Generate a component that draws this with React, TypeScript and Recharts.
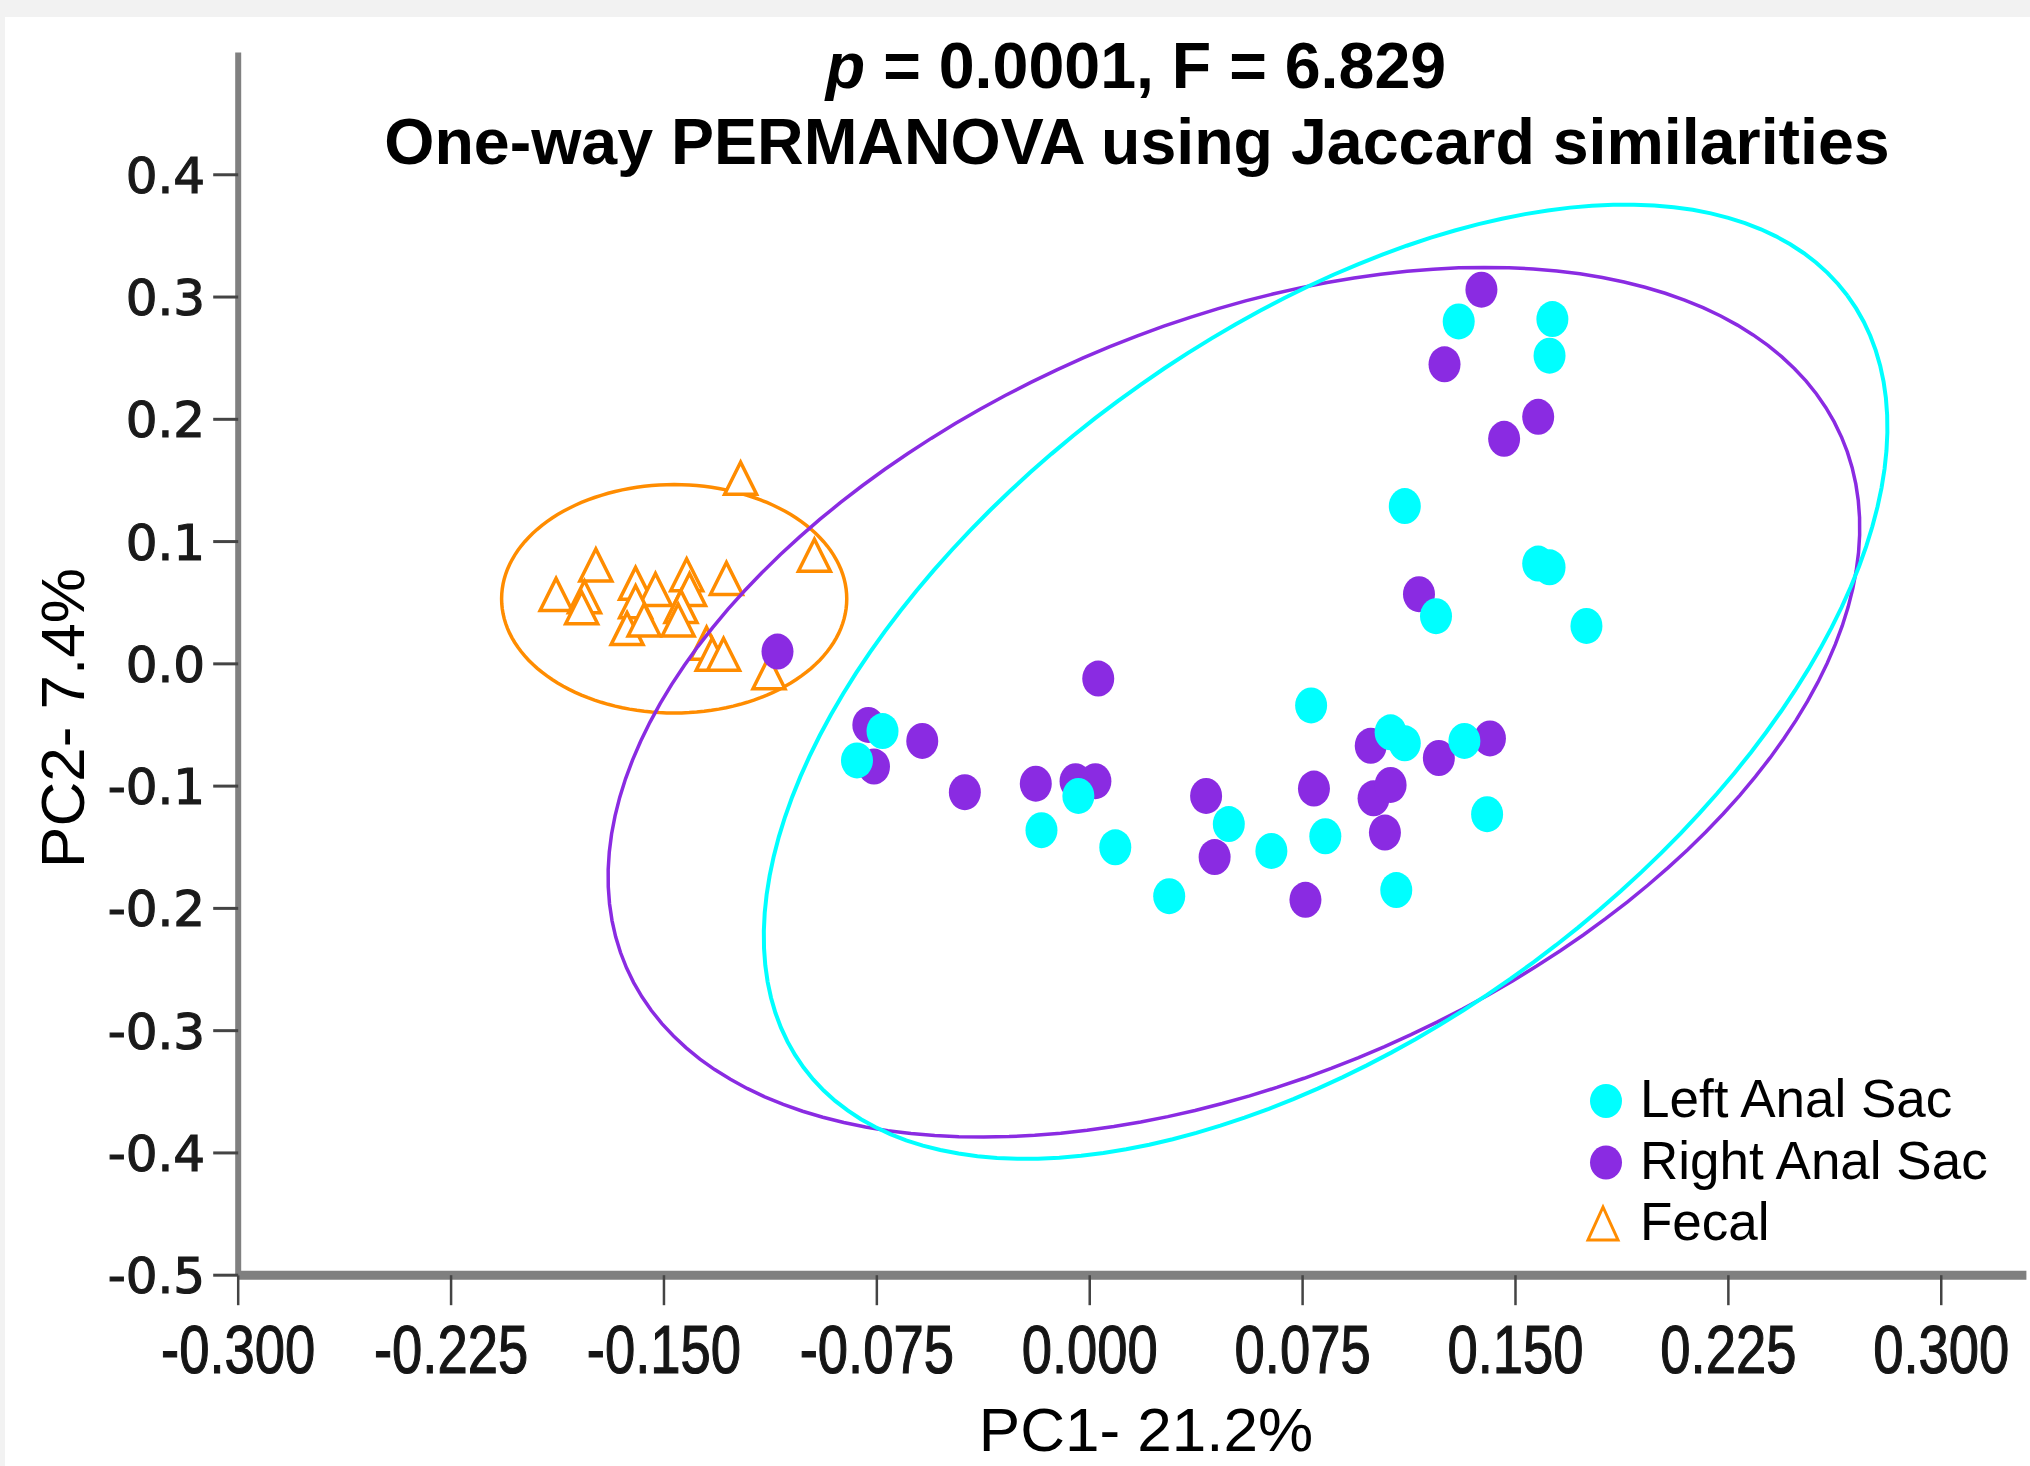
import { ScatterChart, Scatter, XAxis, YAxis } from 'recharts'

// PCoA coordinates
const leftAnalSac = [
  { x: 0.130, y: 0.280 }, { x: 0.163, y: 0.282 }, { x: 0.162, y: 0.252 },
  { x: 0.111, y: 0.129 }, { x: 0.158, y: 0.082 }, { x: 0.162, y: 0.079 },
  { x: 0.122, y: 0.039 }, { x: 0.175, y: 0.031 }, { x: 0.078, y: -0.034 },
  { x: 0.106, y: -0.056 }, { x: 0.111, y: -0.065 }, { x: 0.132, y: -0.063 },
  { x: 0.140, y: -0.123 }, { x: 0.108, y: -0.185 }, { x: 0.083, y: -0.141 },
  { x: 0.064, y: -0.153 }, { x: 0.049, y: -0.131 }, { x: 0.028, y: -0.190 },
  { x: 0.009, y: -0.150 }, { x: -0.004, y: -0.108 }, { x: -0.017, y: -0.136 },
  { x: -0.073, y: -0.055 }, { x: -0.082, y: -0.079 },
]

const rightAnalSac = [
  { x: 0.138, y: 0.306 }, { x: 0.125, y: 0.245 }, { x: 0.158, y: 0.202 },
  { x: 0.146, y: 0.184 }, { x: 0.116, y: 0.057 }, { x: -0.110, y: 0.010 },
  { x: 0.003, y: -0.012 }, { x: -0.078, y: -0.050 }, { x: -0.076, y: -0.084 },
  { x: -0.059, y: -0.063 }, { x: -0.044, y: -0.105 }, { x: -0.019, y: -0.098 },
  { x: -0.005, y: -0.096 }, { x: 0.002, y: -0.096 }, { x: 0.041, y: -0.108 },
  { x: 0.044, y: -0.158 }, { x: 0.076, y: -0.193 }, { x: 0.079, y: -0.102 },
  { x: 0.099, y: -0.067 }, { x: 0.100, y: -0.110 }, { x: 0.106, y: -0.099 },
  { x: 0.104, y: -0.138 }, { x: 0.123, y: -0.077 }, { x: 0.141, y: -0.061 },
]

const fecal = [
  { x: -0.123, y: 0.151 }, { x: -0.097, y: 0.088 }, { x: -0.174, y: 0.080 },
  { x: -0.188, y: 0.056 }, { x: -0.178, y: 0.054 }, { x: -0.179, y: 0.045 },
  { x: -0.160, y: 0.065 }, { x: -0.153, y: 0.060 }, { x: -0.160, y: 0.050 },
  { x: -0.163, y: 0.028 }, { x: -0.157, y: 0.035 }, { x: -0.142, y: 0.072 },
  { x: -0.141, y: 0.060 }, { x: -0.144, y: 0.046 }, { x: -0.145, y: 0.035 },
  { x: -0.128, y: 0.069 }, { x: -0.135, y: 0.016 }, { x: -0.133, y: 0.007 },
  { x: -0.129, y: 0.007 }, { x: -0.113, y: -0.008 },
]

// 95% ellipses: centre and two semi-axis vectors, in data units
const ellipseCyan = { cx: 0.0831, cy: -0.0146, ux: 0.1839, uy: 0.3156, vx: 0.0732, vy: -0.2295 }
const ellipsePurple = { cx: 0.0508, cy: -0.0314, ux: 0.214, uy: 0.2172, vx: 0.0531, vy: -0.2816 }
const ellipseOrange = { cx: -0.1464, cy: 0.0532, ux: 0.0608, uy: 0, vx: 0, vy: 0.0934 }

const xTicks = [-0.3, -0.225, -0.15, -0.075, 0, 0.075, 0.15, 0.225, 0.3]
const yTicks = [-0.5, -0.4, -0.3, -0.2, -0.1, 0, 0.1, 0.2, 0.3, 0.4]

const legendItems = [
  { label: 'Left Anal Sac', color: '#00ffff', kind: 'dot' },
  { label: 'Right Anal Sac', color: '#8a2be2', kind: 'dot' },
  { label: 'Fecal', color: '#ff8c00', kind: 'tri' },
]

const CYAN = '#00ffff'
const PURPLE = '#8a2be2'
const ORANGE = '#ff8c00'

const outline = (e: typeof ellipseCyan) =>
  Array.from({ length: 145 }, (_, i) => {
    const t = (i / 144) * 2 * Math.PI
    return {
      x: e.cx + e.ux * Math.cos(t) + e.vx * Math.sin(t),
      y: e.cy + e.uy * Math.cos(t) + e.vy * Math.sin(t),
    }
  })

const dot = (color: string) => (p: any) => (
  <ellipse cx={p.cx} cy={p.cy} rx={16} ry={18} fill={color} />
)

const triangle = (p: any) => (
  <polygon
    points={`${p.cx},${p.cy - 17} ${p.cx - 16},${p.cy + 15} ${p.cx + 16},${p.cy + 15}`}
    fill="#fff"
    stroke={ORANGE}
    strokeWidth={3.5}
  />
)

const noShape = () => <g />

const XTick = ({ x, y, payload }: any) => (
  <text
    transform={`translate(${x},${y + 66}) scale(0.8,1)`}
    textAnchor="middle"
    fontFamily="'Liberation Sans', Arial, sans-serif"
    fontSize={68}
    fill="#151515"
    stroke="#151515"
    strokeWidth={1.2}
  >
    {Number(payload.value).toFixed(3)}
  </text>
)

const YTick = ({ x, y, payload }: any) => (
  <text
    x={x}
    y={y}
    dy="0.36em"
    textAnchor="end"
    fontFamily="'DejaVu Sans', sans-serif"
    fontSize={50}
    fill="#1a1a1a"
    stroke="#1a1a1a"
    strokeWidth={1.2}
  >
    {Number(payload.value).toFixed(1)}
  </text>
)

const font = "'Liberation Sans', Arial, sans-serif"

export default function App() {
  return (
    <div style={{ position: 'absolute', left: 0, top: 0, width: 2030, height: 1466, background: '#f2f2f2' }}>
      <div style={{ position: 'absolute', left: 5, top: 17, width: 2025, height: 1449, background: '#fff' }} />
      <div style={{ position: 'absolute', left: 0, top: 0 }}>
        <ScatterChart
          width={2030}
          height={1466}
          margin={{ top: 52.5, right: 3.6, bottom: 70.8, left: 0 }}
        >
          <XAxis
            type="number"
            dataKey="x"
            domain={[-0.3, 0.33]}
            ticks={xTicks}
            interval={0}
            allowDataOverflow
            height={120}
            tickSize={30}
            axisLine={{ stroke: '#7f7f7f', strokeWidth: 9 }}
            tickLine={{ stroke: '#444', strokeWidth: 2.5 }}
            tick={<XTick />}
          />
          <YAxis
            type="number"
            dataKey="y"
            domain={[-0.5, 0.5]}
            ticks={yTicks}
            interval={0}
            allowDataOverflow
            width={238.2}
            tickSize={25}
            tickMargin={8}
            axisLine={{ stroke: '#808080', strokeWidth: 6 }}
            tickLine={{ stroke: '#444', strokeWidth: 3 }}
            tick={<YTick />}
          />
          <Scatter
            data={outline(ellipseOrange)}
            line={{ stroke: ORANGE, strokeWidth: 3.5 }}
            lineType="joint"
            shape={noShape}
            isAnimationActive={false}
          />
          <Scatter data={fecal} shape={triangle} isAnimationActive={false} />
          <Scatter data={rightAnalSac} shape={dot(PURPLE)} isAnimationActive={false} />
          <Scatter data={leftAnalSac} shape={dot(CYAN)} isAnimationActive={false} />
          <Scatter
            data={outline(ellipsePurple)}
            line={{ stroke: PURPLE, strokeWidth: 3.5 }}
            lineType="joint"
            shape={noShape}
            isAnimationActive={false}
          />
          <Scatter
            data={outline(ellipseCyan)}
            line={{ stroke: CYAN, strokeWidth: 4 }}
            lineType="joint"
            shape={noShape}
            isAnimationActive={false}
          />
        </ScatterChart>
      </div>
      <svg
        width={2030}
        height={1466}
        style={{ position: 'absolute', left: 0, top: 0, pointerEvents: 'none' }}
      >
        <text x={1136} y={88} textAnchor="middle" fontFamily={font} fontWeight="bold" fontSize={64.5} fill="#000">
          <tspan fontStyle="italic">p</tspan> = 0.0001, F = 6.829
        </text>
        <text x={1137} y={164} textAnchor="middle" fontFamily={font} fontWeight="bold" fontSize={64.5} fill="#000">
          One-way PERMANOVA using Jaccard similarities
        </text>
        <text x={1146} y={1451} textAnchor="middle" fontFamily={font} fontSize={62} fill="#000">
          PC1- 21.2%
        </text>
        <text
          transform="translate(84,718) rotate(-90)"
          textAnchor="middle"
          fontFamily={font}
          fontSize={62}
          fill="#000"
        >
          PC2- 7.4%
        </text>
        {legendItems.map((item, i) => {
          const cy = 1101 + i * 61.5
          return (
            <g key={item.label}>
              {item.kind === 'dot' ? (
                <ellipse cx={1606} cy={cy} rx={16} ry={17} fill={item.color} />
              ) : (
                <polygon
                  points={`1603,${cy - 17} 1588,${cy + 16} 1618,${cy + 16}`}
                  fill="#fff"
                  stroke={item.color}
                  strokeWidth={3}
                />
              )}
              <text x={1640} y={cy + 16} fontFamily={font} fontSize={53} fill="#000">
                {item.label}
              </text>
            </g>
          )
        })}
      </svg>
    </div>
  )
}
